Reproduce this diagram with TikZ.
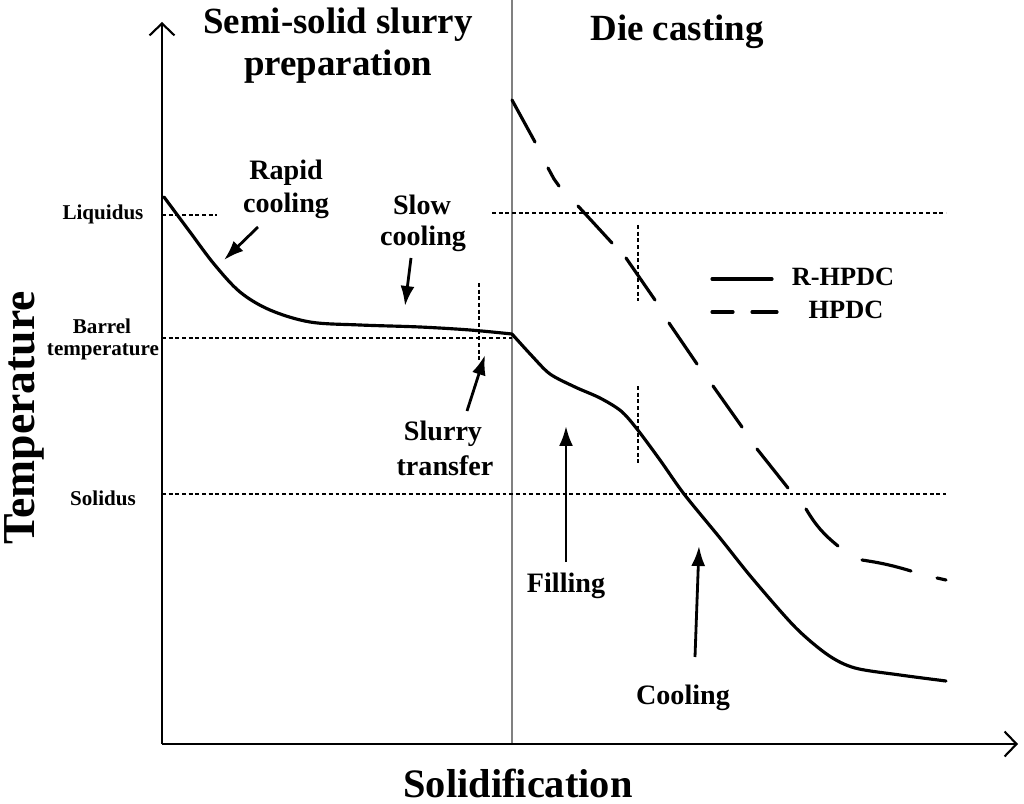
\documentclass[tikz,border=0pt]{standalone}
\usepackage{fontspec}
\setmainfont{Liberation Serif}
\usetikzlibrary{arrows.meta}
\begin{document}
\begin{tikzpicture}[x=0.02cm,y=-0.02cm,
  lbl/.style={font=\bfseries\fontsize{16}{19}\selectfont, inner sep=0pt},
  axlbl/.style={font=\bfseries\fontsize{12}{14}\selectfont, inner sep=0pt},
  ttl/.style={font=\bfseries\fontsize{21}{25}\selectfont, inner sep=0pt},
  leg/.style={font=\bfseries\fontsize{15}{18}\selectfont, inner sep=0pt},
  axis/.style={line width=1.4pt, -{Straight Barb[length=0.24cm,width=0.5cm,line width=1.2pt]}},
  dotline/.style={line width=0.8pt, dash pattern=on 2.2pt off 1.6pt},
  ptr/.style={line width=1.6pt, -{Latex[length=0.4cm,width=0.28cm]}},
  curve/.style={line width=1.8pt, line cap=round, line join=round},
  hpdc/.style={line width=1.8pt, line cap=round},
  ]
\useasboundingbox (0,0) rectangle (1024,804);

% coordinates
\coordinate (O) at (162,744);
\coordinate (ytip) at (162,22);
\coordinate (xtip) at (1018,744);
\coordinate (divtop) at (512,0);
\coordinate (divbot) at (512,744);

% divider
\draw[gray, line width=0.6pt] (divtop) -- (divbot);

% dotted reference lines
\coordinate (liqA) at (162,215); \coordinate (liqB) at (217,215);
\coordinate (liqC) at (492,213); \coordinate (liqD) at (946,213);
\coordinate (barA) at (162,338); \coordinate (barB) at (512,338);
\coordinate (solA) at (162,494); \coordinate (solB) at (946,494);
\coordinate (stA) at (479,283); \coordinate (stB) at (479,360);
\coordinate (v1A) at (638,225); \coordinate (v1B) at (638,301);
\coordinate (v2A) at (638,386); \coordinate (v2B) at (638,464);
\draw[dotline] (liqA) -- (liqB);
\draw[dotline] (liqC) -- (liqD);
\draw[dotline] (barA) -- (barB);
\draw[dotline] (solA) -- (solB);
\draw[dotline] (stA) -- (stB);
\draw[dotline] (v1A) -- (v1B);
\draw[dotline] (v2A) -- (v2B);

% axes
\draw[axis] (O) -- (ytip);
\draw[axis] (O) -- (xtip);

% R-HPDC curve
\draw[curve] plot[smooth, tension=0.55] coordinates {
  (164,197) (190,232) (214,264) (240,292) (270,310) (310,322) (360,325)
  (420,327) (470,330) (512,334)};
\draw[curve] plot[smooth, tension=0.5] coordinates {
  (512,334) (532,356) (550,374) (575,387) (600,398) (621,411) (637,429)
  (660,460) (684,494) (720,538) (752,578) (795,627) (828,655) (855,668)
  (900,675) (946,681)};

% HPDC dashed curve (dash by dash)
\draw[hpdc] (512,100) -- (535,142);
\draw[hpdc] (548,168) -- (554,179) -- (559,186);
\draw[hpdc] (578,206) -- (612,243);
\draw[hpdc] (626,258) -- (655,300);
\draw[hpdc] (669,323) -- (697,364);
\draw[hpdc] (713,386) -- (742,427);
\draw[hpdc] (757,449) -- (788,488);
\draw[hpdc] (806,509) to[bend right=10] (838,546);
\draw[hpdc] (862,560) to[bend left=4] (911,571);
\draw[hpdc] (937,578) -- (946,580);

% axis labels
\node[font=\bfseries\fontsize{26}{30}\selectfont, inner sep=0pt, rotate=90] (ylab) at (24,418) {Temperature};
\node[font=\bfseries\fontsize{23}{27}\selectfont, inner sep=0pt, anchor=base] (xlab) at (518,797) {Solidification};

% titles
\node[ttl] (t1a) at (338,25) {Semi-solid slurry};
\node[ttl] (t1b) at (338,67) {preparation};
\node[ttl] (t2) at (677,32) {Die casting};

% left labels
\node[axlbl] (liq) at (103,214) {Liquidus};
\node[axlbl] (bar1) at (102,326) {Barrel};
\node[axlbl] (bar2) at (103,352) {temperature};
\node[axlbl] (sol) at (103,498) {Solidus};

% annotation labels
\node[lbl] (rap1) at (286,173) {Rapid};
\node[lbl] (rap2) at (286,206) {cooling};
\node[lbl] (slo1) at (422,205) {Slow};
\node[lbl] (slo2) at (423,239) {cooling};
\node[lbl] (slu1) at (443,434) {Slurry};
\node[lbl] (slu2) at (445,466) {transfer};
\node[lbl] (fil) at (566,586) {Filling};
\node[lbl] (coo) at (683,698) {Cooling};

% pointer arrows
\coordinate (rapT) at (258,227); \coordinate (rapH) at (224,260);
\coordinate (sloT) at (411,258); \coordinate (sloH) at (405,306);
\coordinate (sluT) at (467,411); \coordinate (sluH) at (485,355);
\coordinate (filT) at (566,562); \coordinate (filH) at (566,426);
\coordinate (cooT) at (695,657); \coordinate (cooH) at (699,546);
\draw[ptr] (rapT) -- (rapH);
\draw[ptr] (sloT) -- (sloH);
\draw[ptr] (sluT) -- (sluH);
\draw[ptr] (filT) -- (filH);
\draw[ptr] (cooT) -- (cooH);

% legend
\coordinate (l1A) at (712,279); \coordinate (l1B) at (772,279);
\draw[hpdc] (l1A) -- (l1B);
\node[leg] (l1) at (843,277) {R-HPDC};
\coordinate (l2A) at (712,312); \coordinate (l2B) at (733,312);
\coordinate (l2C) at (752,312); \coordinate (l2D) at (777,312);
\draw[hpdc] (l2A) -- (l2B);
\draw[hpdc] (l2C) -- (l2D);
\node[leg] (l2) at (846,310) {HPDC};
\end{tikzpicture}
\end{document}
